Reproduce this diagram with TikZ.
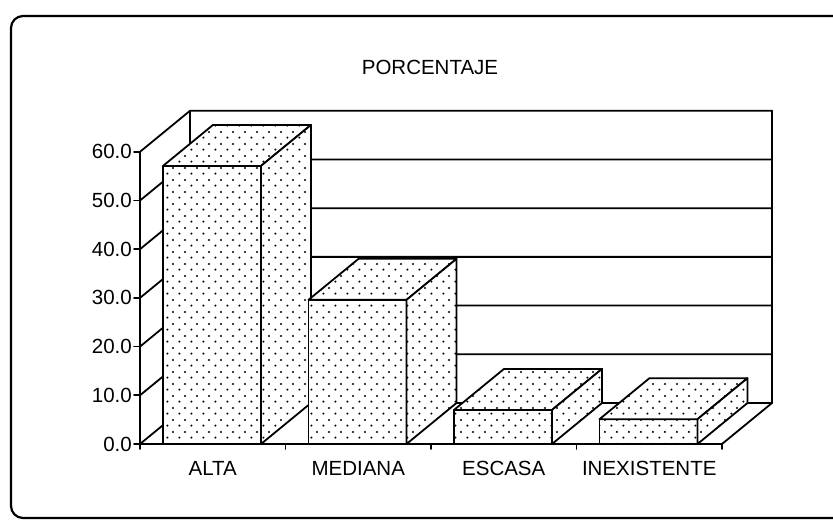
\documentclass[tikz,border=0pt]{standalone}
\usepackage{fontspec}
\setmainfont{Liberation Sans}
\usetikzlibrary{patterns.meta}
\tikzdeclarepattern{name=sdots, type=uncolored,
  bottom left={(-1.5pt,-1.5pt)}, top right={(10.5pt,10.5pt)},
  tile size={(12pt,12pt)},
  code={\fill (0pt,0pt) circle (1.2pt); \fill (6pt,6pt) circle (1.2pt);}}
\begin{document}
\begin{tikzpicture}[x=1pt,y=-1pt, line join=round, line cap=round,
  chart/.style={line width=1.8pt},
  face/.style={draw, line width=1.8pt, fill=white, postaction={pattern=sdots}},
  lab/.style={font=\fontsize{20.5}{22}\selectfont, inner sep=0pt},
  ylab/.style={lab, anchor=east}]
\useasboundingbox (0,0) rectangle (833,521);
\begin{scope}
  \clip (0,0) rectangle (833,521);
  \draw[line width=2.2pt, rounded corners=12pt] (850,16) -- (11,16) -- (11,518) -- (850,518);
\end{scope}
% walls and grid
\foreach \k in {0,...,6} {
  \pgfmathsetmacro\yf{444-48.7*\k}
  \pgfmathsetmacro\yb{\yf-41}
  \draw[chart] (140,\yf) -- (190,\yb) -- (772,\yb);
  \draw[chart] (134,\yf) -- (140,\yf);
}
\draw[chart] (140,444) -- (140,151.8);
\draw[chart] (190,403) -- (190,110.8);
\draw[chart] (772,403) -- (772,110.8);
\draw[chart] (140,444) -- (722,444) -- (772,403);
\foreach \x in {140,285.5,431,576.5,722} \draw[chart] (\x,444) -- (\x,449);
% y labels
\foreach \k/\t in {0/0.0,1/10.0,2/20.0,3/30.0,4/40.0,5/50.0,6/60.0} {
  \node[ylab] (y\k) at (132,{444-48.7*\k}) {\t};
}
% bars
\foreach \i/\v/\nm in {0/57.1/ALTA, 1/29.6/MEDIANA, 2/7.0/ESCASA, 3/5.1/INEXISTENTE} {
  \pgfmathsetmacro\xl{163+145.5*\i}
  \pgfmathsetmacro\xr{\xl+98}
  \pgfmathsetmacro\xlb{\xl+50}
  \pgfmathsetmacro\xrb{\xr+50}
  \pgfmathsetmacro\yt{444-4.87*\v}
  \pgfmathsetmacro\ytb{\yt-41}
  \path[face] (\xl,444) rectangle (\xr,\yt);
  \path[face] (\xl,\yt) -- (\xr,\yt) -- (\xrb,\ytb) -- (\xlb,\ytb) -- cycle;
  \path[face] (\xr,444) -- (\xrb,403) -- (\xrb,\ytb) -- (\xr,\yt) -- cycle;
  \node[lab] (c\i) at ({212.75+145.5*\i},468) {\nm};
}
\node[lab] (title) at (430,67.5) {PORCENTAJE};
\end{tikzpicture}
\end{document}
